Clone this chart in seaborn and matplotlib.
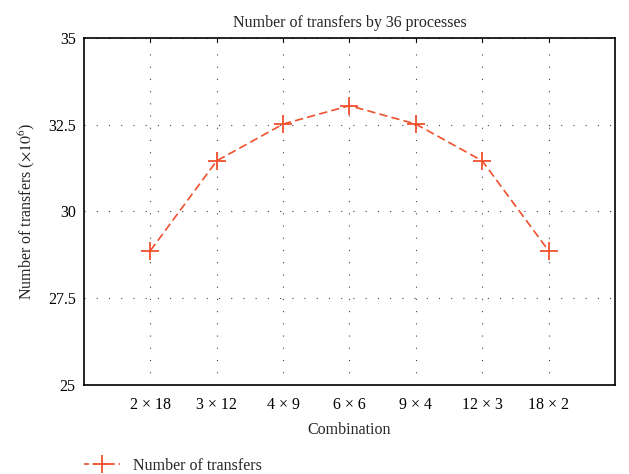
import matplotlib
matplotlib.use("Agg")
import matplotlib.pyplot as plt
import seaborn as sns
import pandas as pd

combinations = ["2 × 18", "3 × 12", "4 × 9", "6 × 6", "9 × 4", "12 × 3", "18 × 2"]
transfers = [28.87, 31.46, 32.52, 33.05, 32.52, 31.46, 28.87]
y_ticks = [25, 27.5, 30, 32.5, 35]
y_tick_labels = ["25", "27.5", "30", "32.5", "35"]

sns.set_style("white")
plt.rcParams["font.family"] = ["Liberation Serif", "DejaVu Serif"]
plt.rcParams["mathtext.fontset"] = "stix"

df = pd.DataFrame({"Combination": combinations, "Transfers": transfers})

fig = plt.figure(figsize=(6.29, 4.74), dpi=100)
ax = fig.add_axes([0.1335, 0.1878, 0.8442, 0.732])

color = "#f0502e"
sns.lineplot(data=df, x="Combination", y="Transfers", ax=ax, color=color,
             linestyle=(0, (5, 2.5)), linewidth=1.2, marker="+", markersize=13,
             markeredgewidth=1.3, markeredgecolor=color, sort=False,
             label="Number of transfers", legend=False)

ax.set_xlim(-1, 7)
ax.set_ylim(25, 35)
ax.set_yticks(y_ticks)
ax.set_yticklabels(y_tick_labels)
ax.set_xticks(range(len(combinations)))
ax.set_xticklabels(combinations)

ax.grid(True, color="#444444", linestyle=(0, (1, 10)), linewidth=0.8)
ax.tick_params(direction="in", length=3, width=0.8, top=True, right=False,
               labelsize=11.5, colors="black", pad=9)
ax.tick_params(axis="y", length=0, pad=6)
for s in ax.spines.values():
    s.set_color("black")
    s.set_linewidth(1.2)

ax.set_title("Number of transfers by 36 processes", fontsize=11.5, pad=8)
ax.set_xlabel("Combination", fontsize=11.5, labelpad=6)
ax.set_ylabel(r"Number of transfers ($\times 10^6$)", fontsize=11.5, labelpad=8)

handles, labels = ax.get_legend_handles_labels()
leg = fig.legend(handles, labels, loc="lower left", bbox_to_anchor=(0.11, -0.03),
                 frameon=False, fontsize=11.5, handlelength=2.3)
for ln in leg.get_lines():
    ln.set_linestyle((0, (3, 2.2)))

fig.savefig("out.png", dpi=100)
